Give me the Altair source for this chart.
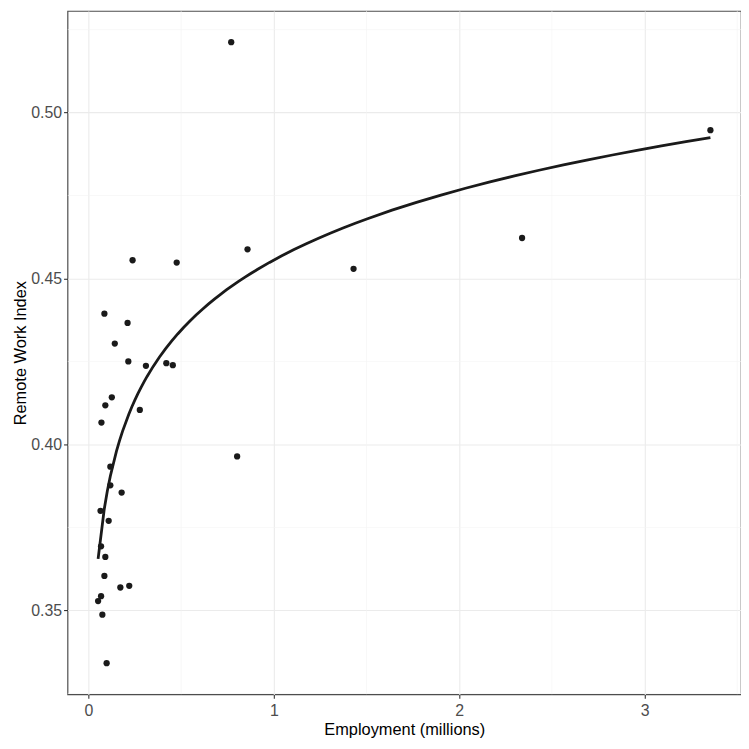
import altair as alt
import pandas as pd

# Employment (millions) and Remote Work Index
employment = [0.770, 3.355, 2.339, 0.858, 0.238, 0.476, 1.430, 0.086, 0.211, 0.142,
              0.215, 0.310, 0.420, 0.455, 0.126, 0.091, 0.070, 0.277, 0.118, 0.118,
              0.179, 0.065, 0.109, 0.802, 0.068, 0.091, 0.086, 0.172, 0.220, 0.068,
              0.052, 0.075, 0.098]
remote_index = [0.5212, 0.4947, 0.4622, 0.4588, 0.4555, 0.4548, 0.4529, 0.4394, 0.4366, 0.4304,
                0.4250, 0.4237, 0.4245, 0.4239, 0.4142, 0.4118, 0.4066, 0.4104, 0.3933, 0.3877,
                0.3855, 0.3800, 0.3770, 0.3964, 0.3693, 0.3661, 0.3604, 0.3569, 0.3574, 0.3543,
                0.3528, 0.3487, 0.3341]

x_major = [0, 1, 2, 3]
x_minor = [0.5, 1.5, 2.5, 3.5]
y_major = [0.35, 0.40, 0.45, 0.50]
y_minor = [0.325, 0.375, 0.425, 0.475, 0.525]

df = pd.DataFrame({"emp": employment, "rwi": remote_index})
xmin_df = pd.DataFrame({"emp": x_minor})
ymin_df = pd.DataFrame({"rwi": y_minor})

FONT = "Liberation Sans"
xs = alt.Scale(domain=[-0.113, 3.520], nice=False, zero=False)
ys = alt.Scale(domain=[0.3247, 0.5306], nice=False, zero=False)

x_axis = alt.Axis(values=x_major, format="d", title="Employment (millions)",
                  grid=True, gridColor="#EBEBEB", gridWidth=1.1,
                  domain=False, tickColor="#333333", tickSize=4, tickWidth=1.1,
                  labelFont=FONT, labelFontSize=16, labelColor="#4D4D4D", labelPadding=4,
                  titleFont=FONT, titleFontSize=16.5, titleFontWeight="normal",
                  titleColor="#000000", titlePadding=3)
y_axis = alt.Axis(values=y_major, format=".2f", title="Remote Work Index",
                  grid=True, gridColor="#EBEBEB", gridWidth=1.1,
                  domain=False, tickColor="#333333", tickSize=4, tickWidth=1.1,
                  labelFont=FONT, labelFontSize=16, labelColor="#4D4D4D", labelPadding=2,
                  titleFont=FONT, titleFontSize=16.5, titleFontWeight="normal",
                  titleColor="#000000", titlePadding=2)

base = alt.Chart(df)
minor_x = alt.Chart(xmin_df).mark_rule(color="#F4F4F4", strokeWidth=0.6, clip=True).encode(
    x=alt.X("emp:Q", scale=xs, axis=x_axis))
minor_y = alt.Chart(ymin_df).mark_rule(color="#F4F4F4", strokeWidth=0.6, clip=True).encode(
    y=alt.Y("rwi:Q", scale=ys, axis=y_axis))
points = base.mark_circle(size=40, color="#1A1A1A", opacity=1).encode(
    x=alt.X("emp:Q", scale=xs, axis=x_axis),
    y=alt.Y("rwi:Q", scale=ys, axis=y_axis),
)
fit = base.transform_regression("emp", "rwi", method="log").mark_line(
    color="#1A1A1A", strokeWidth=2.8).encode(
    x=alt.X("emp:Q", scale=xs, axis=x_axis),
    y=alt.Y("rwi:Q", scale=ys, axis=y_axis),
)

chart = alt.layer(minor_x, minor_y, points, fit).properties(
    width=679, height=689,
    background="white",
    autosize=alt.AutoSizeParams(type="none"),
    padding={"left": 60, "top": 0, "right": 0, "bottom": 44},
).configure_view(stroke="#4D4D4D", strokeWidth=1.2)

chart.save("out.html", embed_options={"renderer": "svg", "actions": False})
